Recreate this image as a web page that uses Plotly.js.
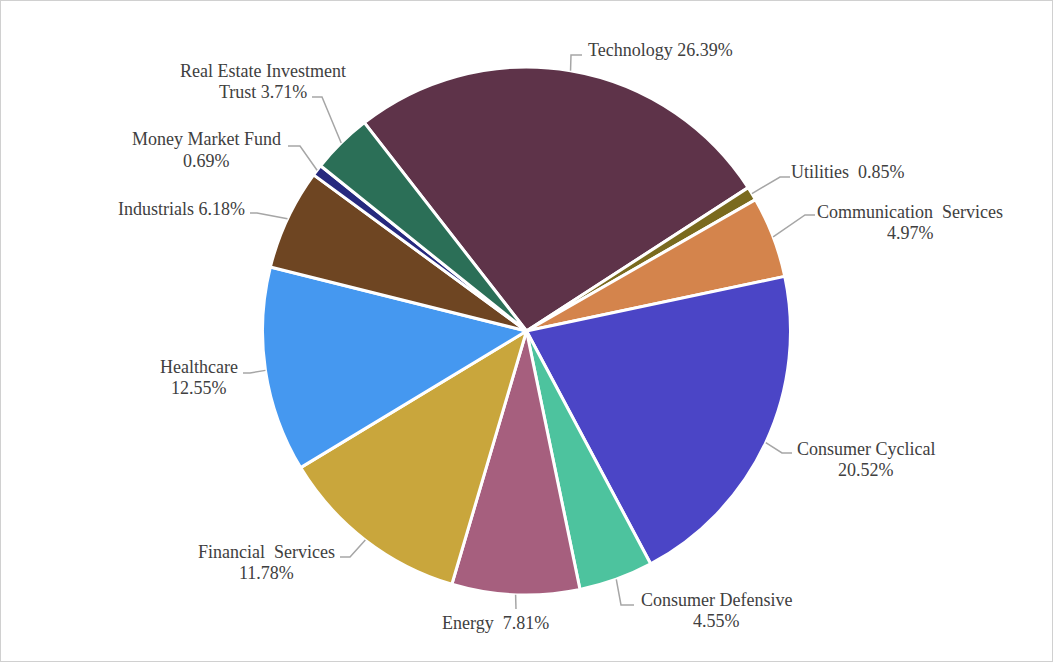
<!DOCTYPE html>
<html>
<head>
<meta charset="utf-8">
<script src="https://cdn.plot.ly/plotly-3.0.1.min.js"></script>
<style>html,body{margin:0;padding:0;background:#fff;}#chart{width:1053px;height:662px;}</style>
</head>
<body>
<div id="chart"></div>
<script>
// ---- data ----
const sectors = ["Technology", "Utilities", "Communication Services", "Consumer Cyclical",
  "Consumer Defensive", "Energy", "Financial Services", "Healthcare", "Industrials",
  "Money Market Fund", "Real Estate Investment Trust"];
const weights = [26.39, 0.85, 4.97, 20.52, 4.55, 7.81, 11.78, 12.55, 6.18, 0.69, 3.71];

// ---- style ----
const colors = ["#5E3349", "#7A6A1E", "#D4844C", "#4B45C6", "#4DC39E", "#A65F7E",
  "#C9A63C", "#4598F0", "#6E4522", "#26297E", "#2B6F57"];
const W = 1053, H = 662, CX = 526.5, CY = 331, R = 264, ROT = -37.9;
const FONT = {family: "Liberation Serif", size: 18, color: "#404040"};
// label placement (pixels): elbow, end of leader, text centre x, line centre ys, line splitting
const labelLayout = [
  {elbow: [571, 55], end: [582, 55], cx: 660, ys: [50], split: "one"},
  {elbow: [780, 177], end: [790, 177], cx: 848, ys: [172], split: "one2"},
  {elbow: [805, 215], end: [815, 215], cx: 910, ys: [212, 233], split: "two"},
  {elbow: [782, 453], end: [792, 453], cx: 866, ys: [449, 470], split: "plain"},
  {elbow: [621, 605], end: [634, 605], cx: 716, ys: [600, 621], split: "plain"},
  {elbow: [516, 609], end: [516, 609], cx: 495, ys: [623], split: "one2"},
  {elbow: [350, 557], end: [340, 557], cx: 266, ys: [552, 573], split: "two"},
  {elbow: [250, 373], end: [243, 373], cx: 199, ys: [367, 388], split: "plain"},
  {elbow: [257, 213], end: [250, 213], cx: 181, ys: [209], split: "one"},
  {elbow: [300, 146], end: [288, 146], cx: 206, ys: [139, 161], split: "plain"},
  {elbow: [322, 97], end: [312, 97], cx: 263, ys: [71, 92], split: "word3"}
];

const px = x => x / W, py = y => 1 - y / H;
const total = weights.reduce((a, b) => a + b, 0);
const shapes = [], annotations = [];
let cum = 0;
weights.forEach((w, i) => {
  const mid = (ROT + 360 * (cum + w / 2) / total) * Math.PI / 180;
  cum += w;
  const ex = CX + R * Math.sin(mid), ey = CY - R * Math.cos(mid);
  const L = labelLayout[i];
  shapes.push({type: "path", xref: "paper", yref: "paper",
    path: `M${px(ex)},${py(ey)} L${px(L.elbow[0])},${py(L.elbow[1])} L${px(L.end[0])},${py(L.end[1])}`,
    line: {color: "#A6A6A6", width: 1.5}});
  const pct = w.toFixed(2) + "%";
  let lines;
  if (L.split === "one") lines = [sectors[i] + " " + pct];
  else if (L.split === "one2") lines = [sectors[i] + "\u00a0 " + pct];
  else if (L.split === "two") lines = [sectors[i].replace(" ", "\u00a0 "), pct];
  else if (L.split === "plain") lines = [sectors[i], pct];
  else { const parts = sectors[i].split(" "); lines = [parts.slice(0, 3).join(" "), parts.slice(3).join(" ") + " " + pct]; }
  lines.forEach((t, k) => annotations.push({xref: "paper", yref: "paper", x: px(L.cx), y: py(L.ys[k]),
    xanchor: "center", yanchor: "middle", text: t, showarrow: false, font: FONT}));
});
shapes.push({type: "rect", xref: "paper", yref: "paper", x0: 0, x1: 1, y0: 0, y1: 1,
  line: {color: "#D0D0D0", width: 2}});

const trace = {
  type: "pie", labels: sectors, values: weights, sort: false, direction: "clockwise",
  rotation: ROT, textinfo: "none", hoverinfo: "label+percent",
  marker: {colors: colors, line: {color: "#FFFFFF", width: 3}},
  domain: {x: [0, 1], y: [67 / H, 1 - 67 / H]}, showlegend: false
};
Plotly.newPlot("chart", [trace], {
  width: W, height: H, margin: {l: 0, r: 0, t: 0, b: 0},
  paper_bgcolor: "#FFFFFF", plot_bgcolor: "#FFFFFF",
  shapes: shapes, annotations: annotations, font: FONT, showlegend: false
}, {displayModeBar: false, staticPlot: true});
</script>
</body>
</html>
